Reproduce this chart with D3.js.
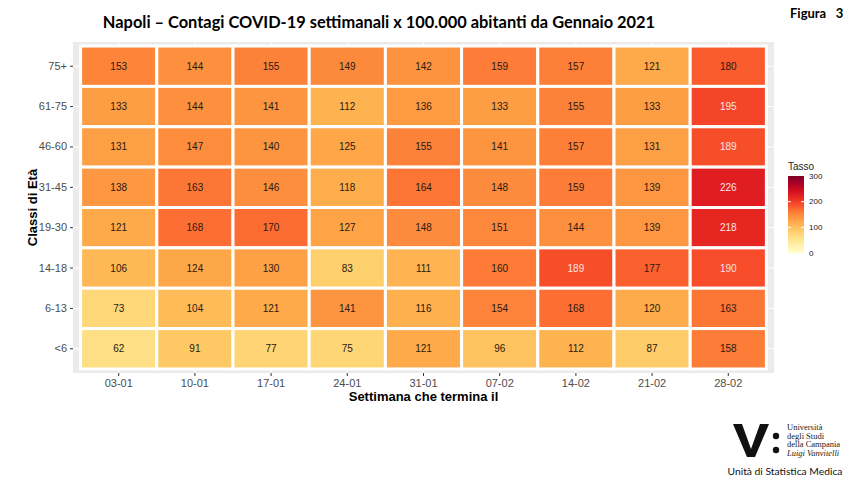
<!DOCTYPE html>
<html>
<head>
<meta charset="utf-8">
<script src="https://cdn.jsdelivr.net/npm/d3@7"></script>
<style>
  body { margin: 0; background: #fff; }
  svg { display: block; }
</style>
</head>
<body>
<div id="chart-container"></div>
<script>
// 數據
const settimane = ["03-01", "10-01", "17-01", "24-01", "31-01", "07-02", "14-02", "21-02", "28-02"];
const classi = ["75+", "61-75", "46-60", "31-45", "19-30", "14-18", "6-13", "<6"];
const tasso75 = [153, 144, 155, 149, 142, 159, 157, 121, 180];
const tasso61 = [133, 144, 141, 112, 136, 133, 155, 133, 195];
const tasso46 = [131, 147, 140, 125, 155, 141, 157, 131, 189];
const tasso31 = [138, 163, 146, 118, 164, 148, 159, 139, 226];
const tasso19 = [121, 168, 170, 127, 148, 151, 144, 139, 218];
const tasso14 = [106, 124, 130, 83, 111, 160, 189, 177, 190];
const tasso6 = [73, 104, 121, 141, 116, 154, 168, 120, 163];
const tasso0 = [62, 91, 77, 75, 121, 96, 112, 87, 158];
const legendTicks = [0, 100, 200, 300];

const righe = [tasso75, tasso61, tasso46, tasso31, tasso19, tasso14, tasso6, tasso0];
const data = [];
righe.forEach((r, i) => r.forEach((v, j) => data.push({ classe: classi[i], sett: settimane[j], v })));

const W = 854, H = 481;
const panel = { left: 73, right: 774, top: 42, bottom: 373 };

const svg = d3.select("#chart-container")
  .append("svg")
  .attr("width", W)
  .attr("height", H);

// 比例尺
const x = d3.scaleBand().domain(settimane)
  .range([panel.left, panel.right]).paddingInner(0).paddingOuter(0.1);
const y = d3.scaleBand().domain(classi)
  .range([panel.top, panel.bottom]).paddingInner(0).paddingOuter(0.1);
const color = d3.scaleSequential(d3.interpolateYlOrRd).domain([0, 300]);

// 背景
svg.append("rect")
  .attr("x", panel.left).attr("y", panel.top)
  .attr("width", panel.right - panel.left)
  .attr("height", panel.bottom - panel.top)
  .attr("fill", "#EBEBEB");

// 網格線
svg.selectAll(".vgrid")
  .data(settimane)
  .join("line")
  .attr("x1", d => x(d) + x.bandwidth() / 2)
  .attr("x2", d => x(d) + x.bandwidth() / 2)
  .attr("y1", panel.top).attr("y2", panel.bottom)
  .attr("stroke", "#fff").attr("stroke-width", 1);
svg.selectAll(".hgrid")
  .data(classi)
  .join("line")
  .attr("y1", d => y(d) + y.bandwidth() / 2)
  .attr("y2", d => y(d) + y.bandwidth() / 2)
  .attr("x1", panel.left).attr("x2", panel.right)
  .attr("stroke", "#fff").attr("stroke-width", 1);

// 格子
svg.selectAll(".tile")
  .data(data)
  .join("rect")
  .attr("x", d => x(d.sett))
  .attr("y", d => y(d.classe))
  .attr("width", x.bandwidth())
  .attr("height", y.bandwidth())
  .attr("fill", d => color(d.v))
  .attr("stroke", "#fff")
  .attr("stroke-width", 3);

// 數值標籤
svg.selectAll(".val")
  .data(data)
  .join("text")
  .attr("x", d => x(d.sett) + x.bandwidth() / 2)
  .attr("y", d => y(d.classe) + y.bandwidth() / 2)
  .attr("dy", "0.35em")
  .attr("text-anchor", "middle")
  .style("font-family", "Liberation Sans, Arial, sans-serif")
  .style("font-size", "10px")
  .attr("fill", d => d.v > 185 ? "#fbe3e0" : "#2b1a10")
  .text(d => d.v);

// x 軸
const gx = svg.append("g")
  .attr("transform", `translate(0,${panel.bottom})`)
  .call(d3.axisBottom(x).tickSize(3).tickPadding(3));
gx.select(".domain").remove();
gx.selectAll(".tick line").attr("stroke", "#333");
gx.selectAll(".tick text")
  .style("font-family", "Liberation Sans, Arial, sans-serif")
  .style("font-size", "11px")
  .attr("fill", "#4D4D4D");

// y 軸
const gy = svg.append("g")
  .attr("transform", `translate(${panel.left},0)`)
  .call(d3.axisLeft(y).tickSize(3).tickPadding(3));
gy.select(".domain").remove();
gy.selectAll(".tick line").attr("stroke", "#333");
gy.selectAll(".tick text")
  .style("font-family", "Liberation Sans, Arial, sans-serif")
  .style("font-size", "11px")
  .attr("fill", "#4D4D4D");

// 軸標題
svg.append("text")
  .attr("x", (panel.left + panel.right) / 2)
  .attr("y", 401)
  .attr("text-anchor", "middle")
  .style("font-family", "Liberation Sans, Arial, sans-serif")
  .style("font-size", "13px")
  .style("font-weight", "bold")
  .text("Settimana che termina il");

svg.append("text")
  .attr("transform", `translate(37,${(panel.top + panel.bottom) / 2}) rotate(-90)`)
  .attr("text-anchor", "middle")
  .style("font-family", "Liberation Sans, Arial, sans-serif")
  .style("font-size", "13px")
  .style("font-weight", "bold")
  .text("Classi di Età");

// 圖例
const lg = { x: 788, top: 176, bottom: 253, w: 16 };
const ly = d3.scaleLinear().domain([0, 300]).range([lg.bottom, lg.top]);
const defs = svg.append("defs");
const grad = defs.append("linearGradient")
  .attr("id", "legend-gradient")
  .attr("x1", "0%").attr("y1", "100%").attr("x2", "0%").attr("y2", "0%");
d3.range(0, 1.001, 0.1).forEach(t => {
  grad.append("stop").attr("offset", `${t * 100}%`).style("stop-color", color(t * 300));
});
svg.append("rect")
  .attr("x", lg.x).attr("y", lg.top)
  .attr("width", lg.w).attr("height", lg.bottom - lg.top)
  .style("fill", "url(#legend-gradient)");
svg.selectAll(".ltick")
  .data(legendTicks.slice(1, 3))
  .join("line")
  .attr("x1", lg.x).attr("x2", lg.x + 3)
  .attr("y1", d => ly(d)).attr("y2", d => ly(d))
  .attr("stroke", "#fff");
svg.selectAll(".ltick2")
  .data(legendTicks.slice(1, 3))
  .join("line")
  .attr("x1", lg.x + lg.w - 3).attr("x2", lg.x + lg.w)
  .attr("y1", d => ly(d)).attr("y2", d => ly(d))
  .attr("stroke", "#fff");
svg.selectAll(".llab")
  .data(legendTicks)
  .join("text")
  .attr("x", lg.x + lg.w + 5)
  .attr("y", d => ly(d))
  .attr("dy", "0.35em")
  .style("font-family", "Liberation Sans, Arial, sans-serif")
  .style("font-size", "8px")
  .attr("fill", "#222")
  .text(d => d);
svg.append("text")
  .attr("x", lg.x).attr("y", 170)
  .style("font-family", "Liberation Sans, Arial, sans-serif")
  .style("font-size", "10px")
  .attr("fill", "#222")
  .text("Tasso");

// 標題
svg.append("text")
  .attr("x", 379).attr("y", 28)
  .attr("text-anchor", "middle")
  .style("font-family", "Lato, sans-serif")
  .style("font-size", "16.4px")
  .style("font-weight", "bold")
  .text("Napoli – Contagi COVID-19 settimanali x 100.000 abitanti da Gennaio 2021");

svg.append("text")
  .attr("x", 790).attr("y", 18)
  .style("font-family", "Lato, sans-serif")
  .style("font-size", "13px")
  .style("font-weight", "bold")
  .attr("xml:space", "preserve")
  .text("Figura   3");

// 標誌
const logo = svg.append("g");
logo.append("path")
  .attr("d", "M733,424 L742,424 L751,449 L760,424 L769,424 L755,457 L747,457 Z")
  .attr("fill", "#111");
logo.append("circle").attr("cx", 776).attr("cy", 436).attr("r", 3.2).attr("fill", "#111");
logo.append("circle").attr("cx", 776).attr("cy", 450).attr("r", 3.2).attr("fill", "#111");
const uni = ["Università", "degli Studi", "della Campania", "Luigi Vanvitelli"];
logo.selectAll(".uni")
  .data(uni)
  .join("text")
  .attr("x", 787)
  .attr("y", (d, i) => 430 + i * 8.5)
  .style("font-family", "Liberation Serif, serif")
  .style("font-size", "8.5px")
  .style("font-style", (d, i) => i === 3 ? "italic" : "normal")
  .attr("fill", "#222")
  .text(d => d);
logo.append("text")
  .attr("x", 785).attr("y", 475)
  .attr("text-anchor", "middle")
  .style("font-family", "Lato, sans-serif")
  .style("font-size", "10.3px")
  .attr("fill", "#111")
  .text("Unità di Statistica Medica");
</script>
</body>
</html>
